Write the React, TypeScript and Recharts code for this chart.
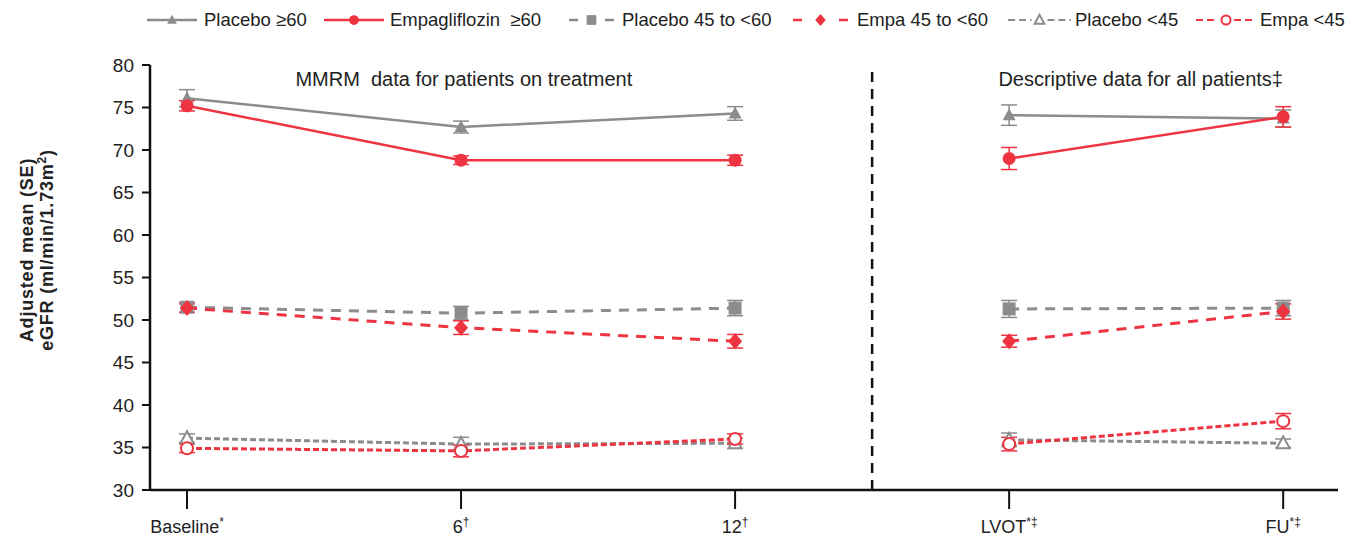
import React from "react";
import {
  LineChart,
  Line,
  XAxis,
  YAxis,
  ErrorBar,
  ReferenceLine,
  ReferenceDot,
  Legend,
} from "recharts";

const timepoints = ["Baseline", "6", "12", "LVOT", "FU"];
const timeSup = ["*", "†", "†", "*‡", "*‡"];
const yTicks = [30, 35, 40, 45, 50, 55, 60, 65, 70, 75, 80];

const placeboGe60 = [76.1, 72.7, 74.3, 74.1, 73.7];
const placeboGe60Se = [1.0, 0.7, 0.8, 1.2, 1.0];
const empaGe60 = [75.2, 68.8, 68.8, 69.0, 73.9];
const empaGe60Se = [0.6, 0.5, 0.6, 1.3, 1.2];
const placebo45to60 = [51.5, 50.8, 51.4, 51.3, 51.4];
const placebo45to60Se = [0.6, 0.8, 0.9, 1.0, 0.9];
const empa45to60 = [51.4, 49.1, 47.5, 47.5, 51.0];
const empa45to60Se = [0.5, 0.8, 0.8, 0.7, 0.9];
const placeboLt45 = [36.1, 35.4, 35.5, 35.9, 35.5];
const placeboLt45Se = [0.5, 0.8, 0.6, 0.8, 0.5];
const empaLt45 = [34.9, 34.6, 36.0, 35.4, 38.1];
const empaLt45Se = [0.5, 0.7, 0.6, 0.8, 0.9];

// on-treatment points (0..2) and descriptive points (3..4) are drawn as separate segments
const segment = (vals: number[], se: number[], from: number, to: number) =>
  vals.slice(from, to).map((v, i) => ({ x: from + i, v, e: se[from + i] }));

const GRAY = "#8c8c8c";
const RED = "#ee3440";
const FONT = "'Liberation Sans', Arial, sans-serif";

type Shape = "triangle" | "circle" | "square" | "diamond" | "openTriangle" | "openCircle";

function marker(shape: Shape, color: string, cx: number, cy: number, s = 1, key?: string) {
  switch (shape) {
    case "triangle":
      return <polygon key={key} points={`${cx},${cy - 7 * s} ${cx - 6.5 * s},${cy + 5 * s} ${cx + 6.5 * s},${cy + 5 * s}`} fill={color} />;
    case "circle":
      return <circle key={key} cx={cx} cy={cy} r={6.5 * s} fill={color} />;
    case "square":
      return <rect key={key} x={cx - 6.5 * s} y={cy - 6.5 * s} width={13 * s} height={13 * s} fill={color} />;
    case "diamond":
      return <polygon key={key} points={`${cx},${cy - 8 * s} ${cx + 7 * s},${cy} ${cx},${cy + 8 * s} ${cx - 7 * s},${cy}`} fill={color} />;
    case "openTriangle":
      return (
        <polygon key={key} points={`${cx},${cy - 7 * s} ${cx - 6.5 * s},${cy + 5 * s} ${cx + 6.5 * s},${cy + 5 * s}`} fill="#fff" stroke={color} strokeWidth={2} />
      );
    case "openCircle":
      return <circle key={key} cx={cx} cy={cy} r={6 * s} fill="#fff" stroke={color} strokeWidth={2} />;
  }
}

const dot = (shape: Shape, color: string) => (props: any) =>
  props.cy == null ? <g key={`n-${props.index}`} /> : marker(shape, color, props.cx, props.cy, 1, `${shape}-${props.index}-${props.cx}`);

const legendItems: { label: string; shape: Shape; color: string; kind: "solid" | "dash" | "dot"; left: number; w: number; textLeft: number }[] = [
  { label: "Placebo ≥60", shape: "triangle", color: GRAY, kind: "solid", left: 139, w: 50, textLeft: 196 },
  { label: "Empagliflozin  ≥60", shape: "circle", color: RED, kind: "solid", left: 316, w: 60, textLeft: 382 },
  { label: "Placebo 45 to <60", shape: "square", color: GRAY, kind: "dash", left: 561, w: 45, textLeft: 614 },
  { label: "Empa 45 to <60", shape: "diamond", color: RED, kind: "dash", left: 785, w: 55, textLeft: 849 },
  { label: "Placebo <45", shape: "openTriangle", color: GRAY, kind: "dot", left: 1000, w: 63, textLeft: 1067 },
  { label: "Empa <45", shape: "openCircle", color: RED, kind: "dot", left: 1188, w: 60, textLeft: 1252 },
];

function LegendIcon({ it }: { it: (typeof legendItems)[number] }) {
  const w = it.w;
  const c = w / 2;
  return (
    <svg width={w} height={20} style={{ position: "absolute", left: it.left, top: 2 }}>
      {it.kind === "solid" && <line x1={0} y1={10} x2={w} y2={10} stroke={it.color} strokeWidth={2.5} />}
      {it.kind === "dash" && (
        <>
          <line x1={0} y1={10} x2={9} y2={10} stroke={it.color} strokeWidth={2.5} />
          <line x1={w - 9} y1={10} x2={w} y2={10} stroke={it.color} strokeWidth={2.5} />
        </>
      )}
      {it.kind === "dot" && (
        <>
          <line x1={0} y1={10} x2={c - 8} y2={10} stroke={it.color} strokeWidth={2} strokeDasharray="7 4" />
          <line x1={c + 8} y1={10} x2={w} y2={10} stroke={it.color} strokeWidth={2} strokeDasharray="7 4" />
        </>
      )}
      {marker(it.shape, it.color, c, 10, 0.75)}
    </svg>
  );
}

function LegendContent() {
  return (
    <div style={{ position: "relative", width: 1345, height: 26, fontFamily: FONT, fontSize: 18.5, color: "#222" }}>
      {legendItems.map((it) => (
        <React.Fragment key={it.label}>
          <LegendIcon it={it} />
          <span style={{ position: "absolute", left: it.textLeft, top: 0, whiteSpace: "pre", lineHeight: "24px" }}>{it.label}</span>
        </React.Fragment>
      ))}
    </div>
  );
}

function XTick(props: any) {
  const { x, y, payload } = props;
  const i = payload.value as number;
  return (
    <g transform={`translate(${x},${y})`}>
      <line x1={0} y1={0} x2={0} y2={19} stroke="#111" strokeWidth={2} />
      <text x={0} y={43} textAnchor="middle" fontFamily={FONT} fontSize={18} fill="#222">
        {timepoints[i]}
        <tspan fontSize={12} dy={-7}>{timeSup[i]}</tspan>
      </text>
    </g>
  );
}

function YLabel() {
  return (
    <g transform="translate(25,242) rotate(-90)">
      <text x={0} y={0} textAnchor="middle" fontFamily={FONT} fontSize={18} fontWeight="bold" letterSpacing={0.8} fill="#222">
        Adjusted mean (SE)
      </text>
      <text x={0} y={20} textAnchor="middle" fontFamily={FONT} fontSize={18} fontWeight="bold" letterSpacing={0.8} fill="#222">
        eGFR (ml/min/1.73m
        <tspan fontSize={12} dy={-7}>2</tspan>
        <tspan dy={7}>)</tspan>
      </text>
    </g>
  );
}

const annot = (text: string) => (props: any) => {
  const { viewBox } = props;
  return (
    <text
      x={viewBox.x}
      y={viewBox.y}
      textAnchor="middle"
      dominantBaseline="middle"
      fontFamily={FONT}
      fontSize={20}
      fill="#222"
      style={{ whiteSpace: "pre" }}
    >
      {text}
    </text>
  );
};

const series: { key: string; vals: number[]; se: number[]; shape: Shape; color: string; dash?: string }[] = [
  { key: "pg60", vals: placeboGe60, se: placeboGe60Se, shape: "triangle", color: GRAY },
  { key: "eg60", vals: empaGe60, se: empaGe60Se, shape: "circle", color: RED },
  { key: "p45", vals: placebo45to60, se: placebo45to60Se, shape: "square", color: GRAY, dash: "10 8" },
  { key: "e45", vals: empa45to60, se: empa45to60Se, shape: "diamond", color: RED, dash: "10 8" },
  { key: "plt", vals: placeboLt45, se: placeboLt45Se, shape: "openTriangle", color: GRAY, dash: "6 3" },
  { key: "elt", vals: empaLt45, se: empaLt45Se, shape: "openCircle", color: RED, dash: "6 3" },
];

export default function App() {
  return (
    <LineChart width={1345} height={530} margin={{ top: 31, right: 15, bottom: 8, left: 82 }}>
      <Legend
        verticalAlign="top"
        content={<LegendContent />}
        wrapperStyle={{ top: 0, left: 0, width: 1345 }}
      />
      <XAxis
        dataKey="x"
        type="number"
        domain={[-0.135, 4.2]}
        ticks={[0, 1, 2, 3, 4]}
        tick={<XTick />}
        tickLine={false}
        tickSize={0}
        tickMargin={0}
        axisLine={{ stroke: "#111", strokeWidth: 2.5 }}
        height={40}
        interval={0}
        allowDuplicatedCategory={false}
      />
      <YAxis
        type="number"
        dataKey="v"
        domain={[30, 80]}
        ticks={yTicks}
        width={60}
        axisLine={{ stroke: "#111", strokeWidth: 2.5 }}
        tickLine={{ stroke: "#111", strokeWidth: 2 }}
        tickSize={8}
        tickMargin={8}
        tick={{ fontFamily: FONT, fontSize: 19, fill: "#222" }}
        label={<YLabel />}
      />
      <ReferenceLine x={2.5} stroke="#111" strokeWidth={2.5} strokeDasharray="10 7" />
      <ReferenceDot x={1.01} y={78.2} r={0} label={annot("MMRM  data for patients on treatment")} />
      <ReferenceDot x={3.48} y={78.2} r={0} label={annot("Descriptive data for all patients‡")} />

      {series.flatMap((s) =>
        [
          [0, 3],
          [3, 5],
        ].map(([from, to]) => (
          <Line
            key={`${s.key}-${from}`}
            data={segment(s.vals, s.se, from, to)}
            dataKey="v"
            stroke={s.color}
            strokeWidth={s.dash ? 3 : 2.5}
            strokeDasharray={s.dash}
            dot={dot(s.shape, s.color)}
            activeDot={false}
            isAnimationActive={false}
          >
            <ErrorBar dataKey="e" direction="y" width={8} stroke={s.color} strokeWidth={1.5} />
          </Line>
        ))
      )}
    </LineChart>
  );
}
